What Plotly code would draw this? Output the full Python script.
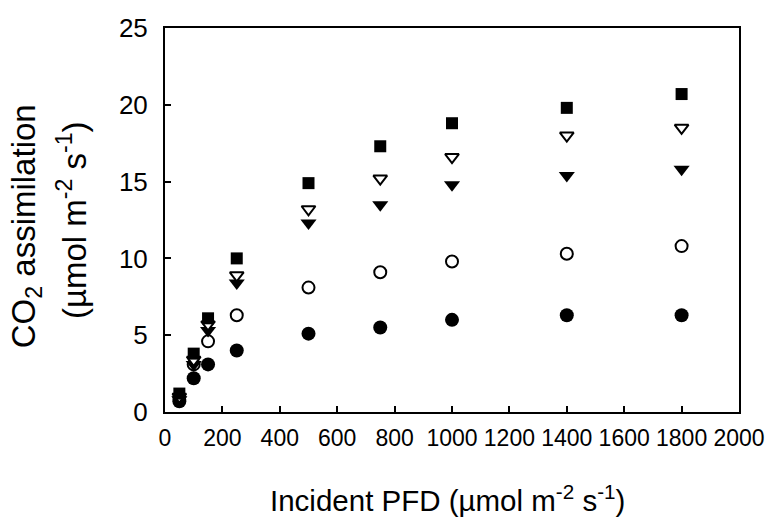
import plotly.graph_objects as go

pfd = [50, 100, 150, 250, 500, 750, 1000, 1400, 1800]
filled_square = [1.2, 3.8, 6.1, 10.0, 14.9, 17.3, 18.8, 19.8, 20.7]
open_triangle = [1.0, 3.4, 5.7, 8.9, 13.2, 15.2, 16.6, 18.0, 18.5]
filled_triangle = [0.8, 3.1, 5.3, 8.4, 12.3, 13.5, 14.8, 15.4, 15.8]
open_circle = [1.0, 3.1, 4.6, 6.3, 8.1, 9.1, 9.8, 10.3, 10.8]
filled_circle = [0.7, 2.2, 3.1, 4.0, 5.1, 5.5, 6.0, 6.3, 6.3]

x_ticks = [0, 200, 400, 600, 800, 1000, 1200, 1400, 1600, 1800, 2000]
y_ticks = [0, 5, 10, 15, 20, 25]

fig = go.Figure()

def add(y, symbol, size, filled):
    fig.add_trace(go.Scatter(
        x=pfd, y=y, mode="markers",
        marker=dict(symbol=symbol, size=size,
                    color="black" if filled else "white",
                    line=dict(color="black", width=0 if filled else 2)),
        showlegend=False))

add(filled_circle, "circle", 14, True)
add(open_circle, "circle", 12, False)
add(filled_triangle, "triangle-down", 14, True)
add(open_triangle, "triangle-down", 12, False)
add(filled_square, "square", 12, True)

xtick_font = dict(family="Liberation Sans, Arial", size=23, color="black")
ytick_font = dict(family="Liberation Sans, Arial", size=26, color="black")
title_font = dict(family="Liberation Sans, Arial", size=29.5, color="black")
ytitle_font = dict(family="Liberation Sans, Arial", size=33, color="black")

fig.update_xaxes(range=[0, 2000], tickvals=x_ticks, ticks="inside", ticklen=6, tickwidth=2,
                 tickcolor="black", showline=True, linecolor="black", linewidth=2, mirror=True,
                 showgrid=False, zeroline=False, tickfont=xtick_font, tickangle=0,
                 ticklabelstandoff=4, automargin=False)
fig.update_yaxes(range=[0, 25], tickvals=y_ticks, ticks="inside", ticklen=6, tickwidth=2,
                 tickcolor="black", showline=True, linecolor="black", linewidth=2, mirror=True,
                 showgrid=False, zeroline=False, tickfont=ytick_font,
                 ticklabelstandoff=10, automargin=False)

fig.add_annotation(text="Incident PFD (µmol m<sup>-2</sup> s<sup>-1</sup>)",
                   xref="paper", yref="paper", x=0.493, y=-0.225,
                   xanchor="center", yanchor="middle", showarrow=False, font=title_font)
fig.add_annotation(text="CO<sub>2</sub> assimilation",
                   xref="paper", yref="paper", x=-0.242, y=0.484, textangle=-90,
                   xanchor="center", yanchor="middle", showarrow=False, font=ytitle_font)
fig.add_annotation(text="(µmol m<sup>-2</sup> s<sup>-1</sup>)",
                   xref="paper", yref="paper", x=-0.162, y=0.5, textangle=-90,
                   xanchor="center", yanchor="middle", showarrow=False, font=ytitle_font)

fig.update_layout(width=770, height=522, margin=dict(l=165, r=31, t=28, b=110, autoexpand=False),
                  plot_bgcolor="white", paper_bgcolor="white", template="none")

fig.write_html("out.html")
